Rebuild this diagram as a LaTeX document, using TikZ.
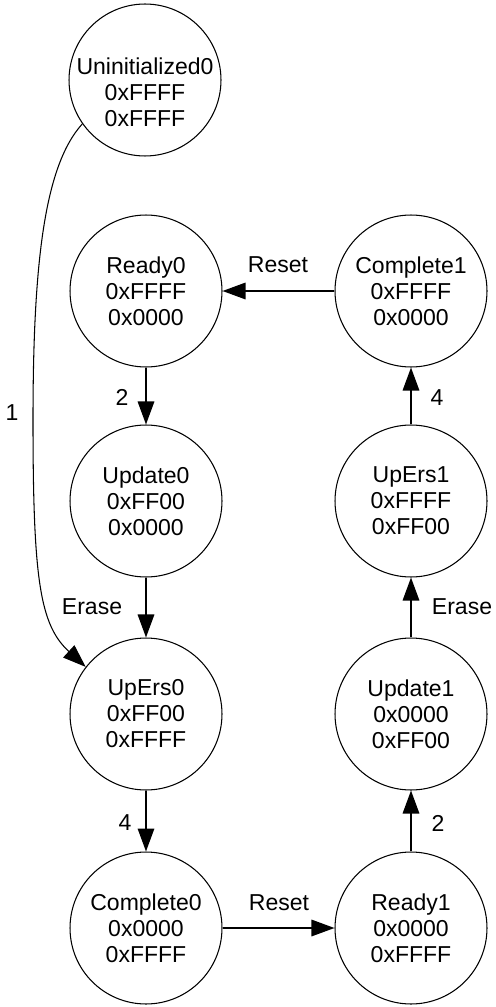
\documentclass[tikz,border=0pt]{standalone}
\usepackage{fontspec}
\setmainfont{Liberation Sans}
\usetikzlibrary{arrows.meta}

\begin{document}
\begin{tikzpicture}[
  x=0.02cm, y=-0.02cm,
  font=\fontsize{13.1}{14.8}\selectfont,
  >={Triangle[length=0.46cm, width=0.33cm]},
  state/.style={circle, draw, line width=0.6pt, minimum size=3.04cm, inner sep=0pt, align=center},
  edge/.style={->, line width=0.9pt},
  lab/.style={inner sep=0pt, align=center}
]
\path[use as bounding box] (0,0) rectangle (495,1007);

% left column
\node[state] (u0) at (145,80) {};
\node[lab] (u0t) at (145,92) {Uninitialized0\\0xFFFF\\0xFFFF};
\node[state] (r0) at (146,291) {Ready0\\0xFFFF\\0x0000};
\node[state] (up0) at (146,501) {Update0\\0xFF00\\0x0000};
\node[state] (ue0) at (146,714) {UpErs0\\0xFF00\\0xFFFF};
\node[state] (c0) at (146,928) {Complete0\\0x0000\\0xFFFF};

% right column
\node[state] (c1) at (411,291) {Complete1\\0xFFFF\\0x0000};
\node[state] (ue1) at (411,501) {UpErs1\\0xFFFF\\0xFF00};
\node[state] (up1) at (411,714) {Update1\\0x0000\\0xFF00};
\node[state] (r1) at (411,928) {Ready1\\0x0000\\0xFFFF};

% transitions
\draw[edge, line width=0.6pt] (u0.215)
  .. controls (45,165) and (33,260) .. (33,420)
  .. controls (33,580) and (40,625) .. (ue0.142);
\draw[edge] (r0) -- (up0);
\draw[edge] (up0) -- (ue0);
\draw[edge] (ue0) -- (c0);
\draw[edge] (c0) -- (r1);
\draw[edge] (r1) -- (up1);
\draw[edge] (up1) -- (ue1);
\draw[edge] (ue1) -- (c1);
\draw[edge] (c1) -- (r0);

% edge labels
\node[lab] (l1) at (12,413) {1};
\node[lab] (l2a) at (122,397) {2};
\node[lab] (lera0) at (92,607) {Erase};
\node[lab] (l4a) at (125,823) {4};
\node[lab] (lres0) at (279,903) {Reset};
\node[lab] (l2b) at (438,823) {2};
\node[lab] (lera1) at (462,607) {Erase};
\node[lab] (l4b) at (437,398) {4};
\node[lab] (lres1) at (278,265) {Reset};
\end{tikzpicture}
\end{document}
